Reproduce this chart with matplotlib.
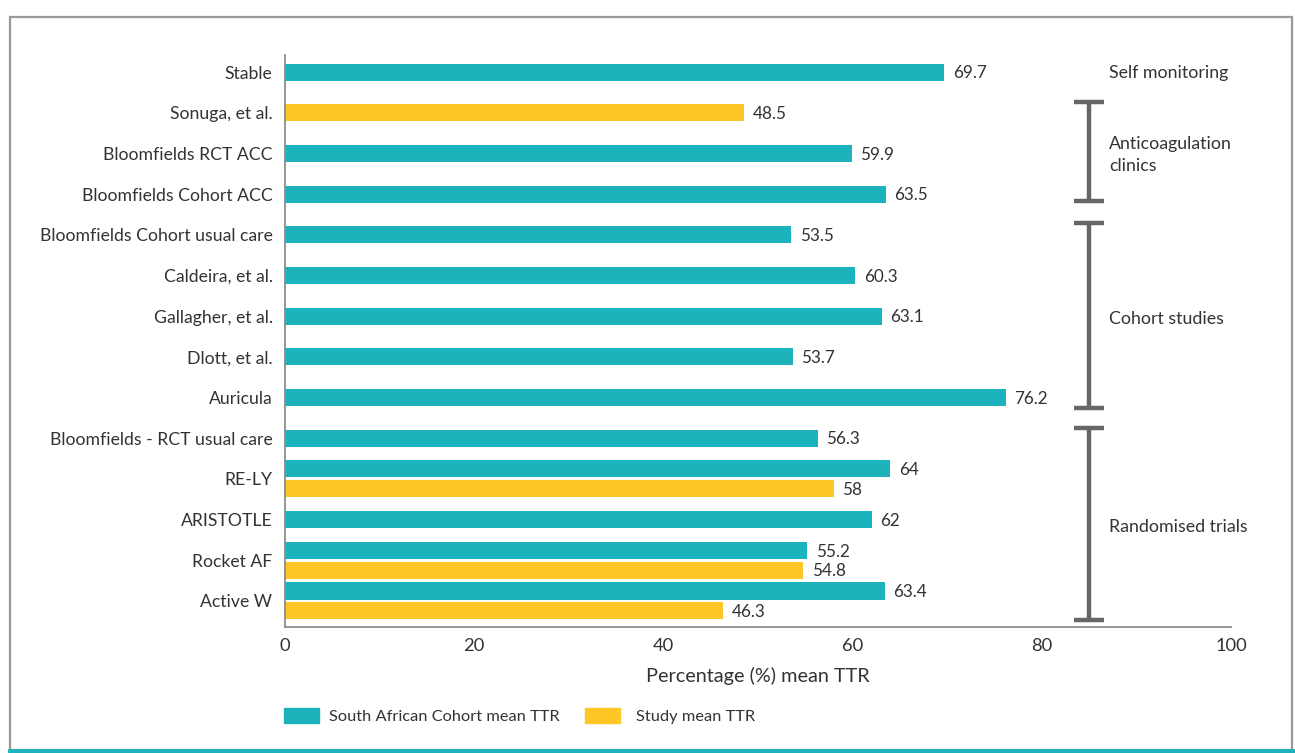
import matplotlib
matplotlib.use("Agg")
import matplotlib.pyplot as plt
from matplotlib.patches import Rectangle
from matplotlib.lines import Line2D
import numpy as np

plt.rcParams['font.family'] = ['Lato', 'DejaVu Sans']

# data, top to bottom
studies = ["Stable", "Sonuga, et al.", "Bloomfields RCT ACC", "Bloomfields Cohort ACC",
           "Bloomfields Cohort usual care", "Caldeira, et al.", "Gallagher, et al.",
           "Dlott, et al.", "Auricula", "Bloomfields - RCT usual care", "RE-LY",
           "ARISTOTLE", "Rocket AF", "Active W"]
sa_ttr = [69.7, None, 59.9, 63.5, 53.5, 60.3, 63.1, 53.7, 76.2, 56.3, 64, 62, 55.2, 63.4]
study_ttr = [None, 48.5, None, None, None, None, None, None, None, None, 58, None, 54.8, 46.3]
sa_labels = ["69.7", "", "59.9", "63.5", "53.5", "60.3", "63.1", "53.7", "76.2", "56.3",
             "64", "62", "55.2", "63.4"]
study_labels = ["", "48.5", "", "", "", "", "", "", "", "", "58", "", "54.8", "46.3"]

groups = ["Self monitoring", "Anticoagulation\nclinics", "Cohort studies", "Randomised trials"]
group_first = [0, 1, 4, 9]
group_last = [0, 3, 8, 13]

TEAL = "#1DB3BC"
YELLOW = "#FFC627"
TXT = "#333333"
GREY = "#666666"

W, H = 1295, 753
fig = plt.figure(figsize=(W / 100, H / 100), dpi=100)

# frame and bottom teal rule
fig.patches.append(Rectangle((10 / W, 3 / H), 1282 / W, 733 / H, transform=fig.transFigure,
                             fill=False, edgecolor="#9a9a9a", linewidth=1.6))
fig.add_artist(Line2D([10 / W, 1], [2 / H, 2 / H], color=TEAL, linewidth=3.5))

ax = fig.add_axes([285 / W, (H - 627) / H, (1231 - 285) / W, (627 - 55) / H])

bh = 0.42
off = 0.245
for i in range(len(studies)):
    a, b = sa_ttr[i], study_ttr[i]
    if a is not None and b is not None:
        ya, yb = i - off, i + off
    else:
        ya = yb = i
    if a is not None:
        ax.barh(ya, a, height=bh, color=TEAL)
        ax.text(a + 0.9, ya + 0.03, sa_labels[i], va="center", ha="left", fontsize=12.3, color=TXT)
    if b is not None:
        ax.barh(yb, b, height=bh, color=YELLOW)
        ax.text(b + 0.9, yb + 0.03, study_labels[i], va="center", ha="left", fontsize=12.3, color=TXT)

ax.set_ylim(13.64, -0.42)
ax.set_xlim(0, 100)
ax.set_yticks(range(len(studies)))
ax.set_yticklabels(studies, fontsize=12.7, color=TXT)
ax.set_xticks([0, 20, 40, 60, 80, 100])
ax.tick_params(length=0, labelcolor=TXT)
ax.tick_params(axis="y", pad=9, labelsize=12.7)
ax.tick_params(axis="x", pad=8, labelsize=13.2)
ax.set_xlabel("Percentage (%) mean TTR", fontsize=14.3, color=TXT, labelpad=9)
for s in ["top", "right"]:
    ax.spines[s].set_visible(False)
for s in ["left", "bottom"]:
    ax.spines[s].set_color("#8c8c8c")
    ax.spines[s].set_linewidth(1.3)

# group brackets
bx = 85.0
cap = 1.6
for g, f, l in zip(groups, group_first, group_last):
    if f == l:
        yc = f + 0.03
    else:
        top, bot = f - 0.26, l + 0.46
        if g.startswith("Cohort"):
            top, bot = f - 0.29, l + 0.26
        if g.startswith("Anti"):
            top, bot = f - 0.26, l + 0.17
        ax.plot([bx, bx], [top, bot], color=GREY, linewidth=3.2, solid_capstyle="butt", clip_on=False)
        ax.plot([bx - cap, bx + cap], [top, top], color=GREY, linewidth=3.2, solid_capstyle="butt", clip_on=False)
        ax.plot([bx - cap, bx + cap], [bot, bot], color=GREY, linewidth=3.2, solid_capstyle="butt", clip_on=False)
        yc = (top + bot) / 2 + 0.08
    ax.text(87.1, yc, g, va="center", ha="left", fontsize=12.8, color=TXT, linespacing=1.45)

# legend
leg = fig.add_axes([0, 0, 1, 1], facecolor="none")
leg.set_xlim(0, W)
leg.set_ylim(H, 0)
leg.axis("off")
leg.add_patch(Rectangle((284, 708), 35, 15, color=TEAL))
leg.text(329, 717, "South African Cohort mean TTR", va="center", ha="left", fontsize=11.8, color=TXT)
leg.add_patch(Rectangle((585, 708), 35, 15, color=YELLOW))
leg.text(636, 717, "Study mean TTR", va="center", ha="left", fontsize=11.8, color=TXT)

fig.savefig("out.png", dpi=100)
